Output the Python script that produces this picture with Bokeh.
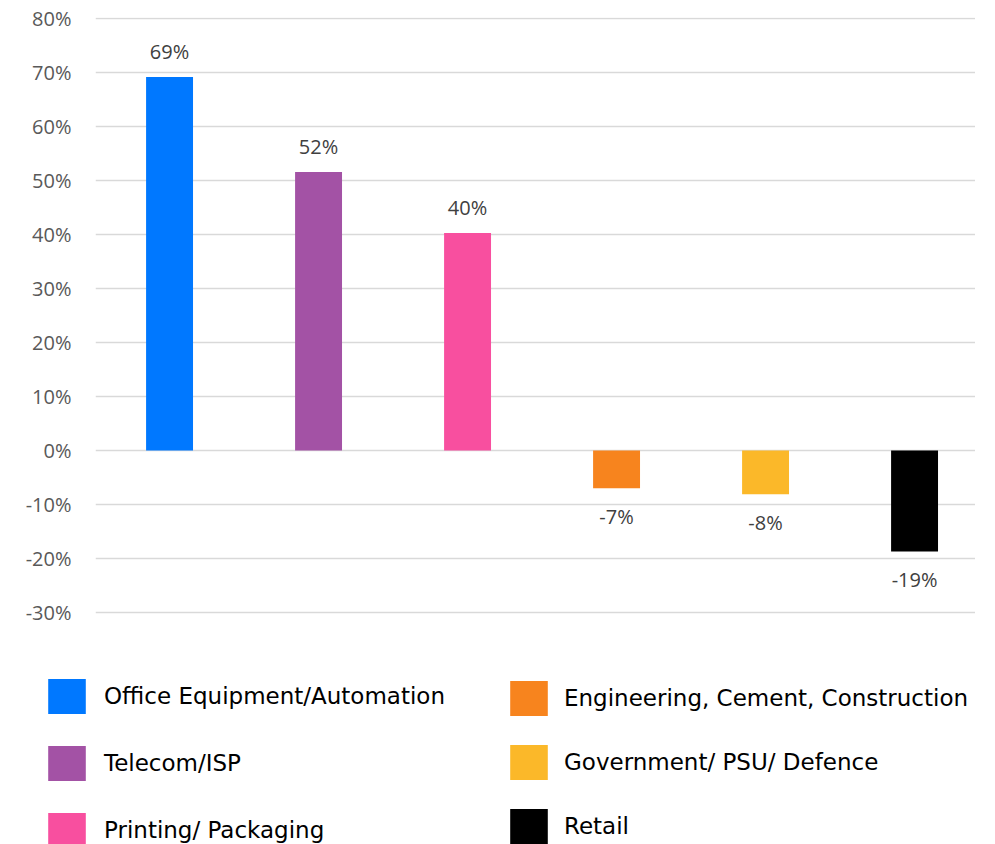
from bokeh.plotting import figure
from bokeh.models import ColumnDataSource, Range1d, FixedTicker, Legend, LegendItem
from bokeh.core.properties import value
from bokeh.embed import file_html
from bokeh.resources import INLINE

categories = ["Office Equipment/Automation", "Telecom/ISP", "Printing/ Packaging",
              "Engineering, Cement, Construction", "Government/ PSU/ Defence", "Retail"]
values = [69.2, 51.6, 40.3, -7.0, -8.1, -18.7]
colors = ["#0078FF", "#A352A5", "#F84F9F", "#F7841E", "#FBB829", "#000000"]
tick_values = [-30, -20, -10, 0, 10, 20, 30, 40, 50, 60, 70, 80]
tick_labels = ["-30%", "-20%", "-10%", "0%", "10%", "20%", "30%", "40%", "50%", "60%", "70%", "80%"]

xs = list(range(len(categories)))
bar_labels = [f"{round(v)}%" for v in values]
offsets = [-25 if v >= 0 else 28 for v in values]

src = ColumnDataSource(dict(x=xs, top=values, color=colors, cat=categories,
                            lab=bar_labels, off=offsets))

p = figure(width=975, height=650, output_backend="svg", toolbar_location=None,
           x_range=Range1d(-0.497, 5.409), y_range=Range1d(-37.04, 80.2),
           min_border_left=95, min_border_right=0, min_border_top=17, min_border_bottom=0)
p.outline_line_color = None
p.background_fill_color = "white"
p.border_fill_color = "white"

r = p.vbar(x="x", top="top", bottom=0, width=0.315, fill_color="color", line_color=None, source=src)

p.text(x="x", y="top", text="lab", y_offset="off", source=src, text_align="center",
       text_baseline="middle", text_font=value("Open Sans"), text_font_size="20px",
       text_color="#404040")

p.xaxis.visible = False
p.xgrid.grid_line_color = None
p.yaxis.ticker = FixedTicker(ticks=tick_values)
p.yaxis.major_label_overrides = {v: l for v, l in zip(tick_values, tick_labels)}
p.yaxis.axis_line_color = None
p.yaxis.major_tick_line_color = None
p.yaxis.minor_tick_line_color = None
p.yaxis.major_tick_out = 0
p.yaxis.major_tick_in = 0
p.yaxis.major_label_standoff = 24
p.yaxis.major_label_text_font = "Open Sans"
p.yaxis.major_label_text_font_size = "20px"
p.yaxis.major_label_text_color = "#595959"
p.ygrid.ticker = FixedTicker(ticks=tick_values)
p.ygrid.grid_line_color = "#D9D9D9"
p.ygrid.grid_line_width = 1.5

# legend panel below the chart (separate root, so its frame starts at the left edge)
lg_fig = figure(width=990, height=194, output_backend="svg", toolbar_location=None,
                x_range=Range1d(100, 101), y_range=Range1d(100, 101),
                min_border_left=0, min_border_right=0, min_border_top=0, min_border_bottom=0)
lg_fig.outline_line_color = None
lg_fig.axis.visible = False
lg_fig.grid.visible = False
r2 = lg_fig.vbar(x="x", top="top", bottom=0, width=0.315, fill_color="color", line_color=None, source=src)

def make_legend(idx, loc, spacing, standoff):
    items = [LegendItem(label=categories[i], renderers=[r2], index=i) for i in idx]
    return Legend(items=items, location=loc, orientation="vertical",
                  glyph_width=47, glyph_height=44, spacing=spacing, label_standoff=standoff,
                  padding=0, margin=0, border_line_color=None, background_fill_alpha=0,
                  label_text_font="DejaVu Sans", label_text_font_size="23px",
                  label_text_color="#000000", label_height=44)

lg_fig.add_layout(make_legend([0, 1, 2], (43, -8), 23, 14), "center")
lg_fig.add_layout(make_legend([3, 4, 5], (505, -4), 20, 12), "center")

open("out.html", "w").write(file_html([p, lg_fig], INLINE))
